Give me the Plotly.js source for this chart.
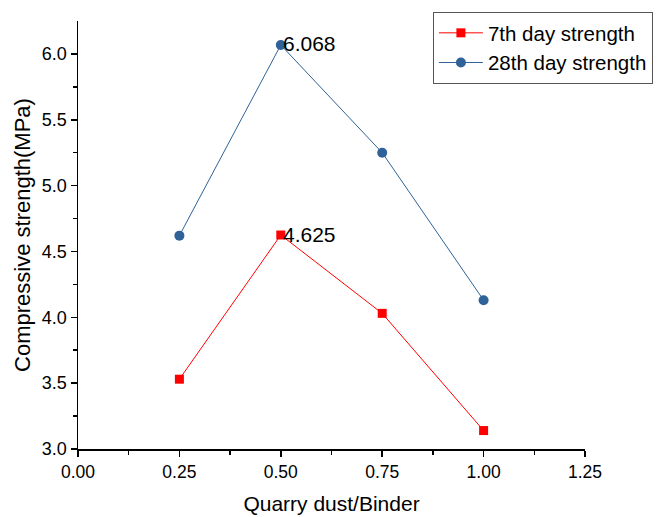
<!DOCTYPE html>
<html>
<head>
<meta charset="utf-8">
<script src="https://cdn.plot.ly/plotly-3.0.1.min.js"></script>
<style>html,body{margin:0;padding:0;background:#fff;}#chart{width:665px;height:517px;}</style>
</head>
<body>
<div id="chart"></div>
<script>
const ratio = [0.25, 0.5, 0.75, 1.0];
const day7 = [3.53, 4.625, 4.03, 3.14];
const day28 = [4.62, 6.068, 5.25, 4.13];
const seriesNames = ["7th day strength", "28th day strength"];
const xTicks = [0, 0.25, 0.5, 0.75, 1.0, 1.25];
const xTickText = ["0.00", "0.25", "0.50", "0.75", "1.00", "1.25"];
const yTicks = [3.0, 3.5, 4.0, 4.5, 5.0, 5.5, 6.0];
const yTickText = ["3.0", "3.5", "4.0", "4.5", "5.0", "5.5", "6.0"];
const labelX = [0.5, 0.5];
const labelY = [4.625, 6.068];
const labelText = ["4.625", "6.068"];

const FONT = "Liberation Sans, Arial, sans-serif";

const traces = [
  {x: ratio, y: day7, name: seriesNames[0], type: "scatter", mode: "lines+markers",
   line: {color: "#ff0000", width: 1}, marker: {symbol: "square", size: 9, color: "#ff0000"}},
  {x: ratio, y: day28, name: seriesNames[1], type: "scatter", mode: "lines+markers",
   line: {color: "#2f6298", width: 1}, marker: {symbol: "circle", size: 10, color: "#2f6298"}}
];

const annotations = labelText.map((t, i) => ({
  x: labelX[i], y: labelY[i], xref: "x", yref: "y", text: t, showarrow: false,
  xanchor: "left", yanchor: "middle", xshift: 0, yshift: 1, font: {family: FONT, size: 21, color: "#000"}
}));

const layout = {
  width: 665, height: 517,
  margin: {l: 78, r: 80, t: 19, b: 68},
  paper_bgcolor: "#fff", plot_bgcolor: "#fff",
  font: {family: FONT, color: "#000"},
  showlegend: true,
  legend: {x: 0.700, y: 1.021, xanchor: "left", yanchor: "top", bgcolor: "#fff",
    bordercolor: "#555", borderwidth: 1, font: {family: FONT, size: 20.5, color: "#000"},
    itemwidth: 44, tracegroupgap: 0},
  xaxis: {range: [0, 1.25], tickvals: xTicks, ticktext: xTickText, showgrid: false, zeroline: false,
    showline: true, linecolor: "#000", linewidth: 1.5, ticks: "outside", ticklen: 6, tickwidth: 1.5, tickcolor: "#000",
    tickfont: {family: FONT, size: 17.5, color: "#000"},
    minor: {tickvals: [0.125, 0.375, 0.625, 0.875, 1.125], ticks: "outside", ticklen: 4, tickwidth: 1.5, tickcolor: "#000", showgrid: false},
    title: {text: "Quarry dust/Binder", font: {family: FONT, size: 21, color: "#000"}, standoff: 16}},
  yaxis: {range: [3.0, 6.25], tickvals: yTicks, ticktext: yTickText, showgrid: false, zeroline: false,
    showline: true, linecolor: "#000", linewidth: 1.5, ticks: "outside", ticklen: 6, tickwidth: 1.5, tickcolor: "#000",
    tickfont: {family: FONT, size: 18, color: "#000"},
    minor: {tickvals: [3.25, 3.75, 4.25, 4.75, 5.25, 5.75], ticks: "outside", ticklen: 4, tickwidth: 1.5, tickcolor: "#000", showgrid: false},
    title: {text: "Compressive strength(MPa)", font: {family: FONT, size: 22, color: "#000"}, standoff: 5}},
  annotations: annotations
};

Plotly.newPlot("chart", traces, layout, {displayModeBar: false, staticPlot: true});
</script>
</body>
</html>
